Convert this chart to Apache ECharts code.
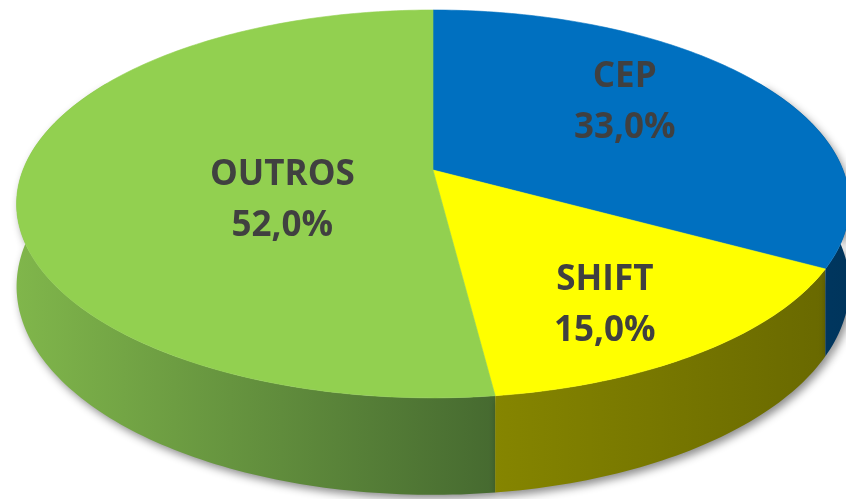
<!DOCTYPE html>
<html>
<head>
<meta charset="utf-8">
<title>3D Pie</title>
<script src="https://cdn.jsdelivr.net/npm/echarts@6.0.0/dist/echarts.min.js"></script>
<style>
  html, body { margin: 0; padding: 0; background: #fff; }
  #pie3d { width: 846px; height: 499px; }
</style>
</head>
<body>
<div id="pie3d"></div>
<script>
// dados do gráfico
var categories = ['CEP', 'SHIFT', 'OUTROS'];
var values = [33.0, 15.0, 52.0];

// cores (topo / lateral)
var topColors = ['#0070C0', '#FFFF00', '#92D050'];
var sideColors = [
    ['#003a66', '#00355c'],
    ['#858500', '#696900'],
    ['#80b64b', '#466a30']
];

// geometria da "pizza" em perspectiva
var CX = 433, CY = 170;     // centro (cubo)
var RX = 410, RY = 188;     // raios
var K = 0.175;              // perspectiva
var DEPTH = 80;             // espessura
// posição dos rótulos: [fração do raio, desvio do ângulo médio]
var labelPos = [[0.63, -7], [0.74, 4], [0.39, -20]];

var total = values.reduce(function (a, b) { return a + b; }, 0);
var starts = [], ends = [];
var acc = 0;
values.forEach(function (v) {
    starts.push(acc / total * 360);
    acc += v;
    ends.push(acc / total * 360);
});

function project(r, deg, drop) {
    var t = deg * Math.PI / 180;
    var X = r * Math.sin(t), Z = r * Math.cos(t);
    var w = 1 / (1 + K * Z);
    return [CX + RX * X * w, CY - RY * Z * w + (drop || 0) * w];
}

function arcPoints(a0, a1, drop) {
    var pts = [];
    var n = Math.max(2, Math.ceil((a1 - a0) / 1));
    for (var i = 0; i <= n; i++) {
        pts.push(project(1, a0 + (a1 - a0) * i / n, drop));
    }
    return pts;
}

function renderSide(params, api) {
    var i = params.dataIndex;
    var a0 = Math.max(starts[i], 60), a1 = Math.min(ends[i], 300);
    if (a1 <= a0) return;
    var top = arcPoints(a0, a1, 0);
    var bottom = arcPoints(a0, a1, DEPTH).reverse();
    var xs = top.map(function (p) { return p[0]; });
    var minX = Math.min.apply(null, xs), maxX = Math.max.apply(null, xs);
    return {
        type: 'polygon',
        z2: Math.round((minX + maxX) / 20),
        shape: { points: top.concat(bottom) },
        style: {
            fill: new echarts.graphic.LinearGradient(minX, 0, maxX, 0, [
                { offset: 0, color: sideColors[i][0] },
                { offset: 1, color: sideColors[i][1] }
            ], true),
            shadowColor: 'rgba(0,0,0,0.45)',
            shadowBlur: 8,
            shadowOffsetX: 3,
            shadowOffsetY: 4
        }
    };
}

function renderTop(params, api) {
    var i = params.dataIndex;
    var pts = [[CX, CY]].concat(arcPoints(starts[i], ends[i], 0));
    var mid = (starts[i] + ends[i]) / 2 + labelPos[i][1];
    var lp = project(labelPos[i][0], mid, 0);
    var pct = api.value(0).toFixed(1).replace('.', ',') + '%';
    return {
        type: 'group',
        children: [{
            type: 'polygon',
            shape: { points: pts },
            style: { fill: topColors[i], stroke: topColors[i], lineWidth: 0.6 }
        }, {
            type: 'text',
            z2: 10,
            style: {
                x: lp[0],
                y: lp[1],
                text: categories[i] + '\n' + pct,
                fill: '#404040',
                fontFamily: 'Open Sans',
                fontWeight: 'bold',
                fontSize: 35,
                lineHeight: 51,
                align: 'center',
                verticalAlign: 'middle'
            }
        }]
    };
}

var myChart = echarts.init(document.getElementById('pie3d'));
var option = {
    backgroundColor: '#ffffff',
    animation: false,
    series: [{
        type: 'custom',
        coordinateSystem: 'none',
        z: 1,
        renderItem: renderSide,
        data: values
    }, {
        type: 'custom',
        coordinateSystem: 'none',
        z: 2,
        renderItem: renderTop,
        data: values
    }]
};
myChart.setOption(option);
</script>
</body>
</html>
